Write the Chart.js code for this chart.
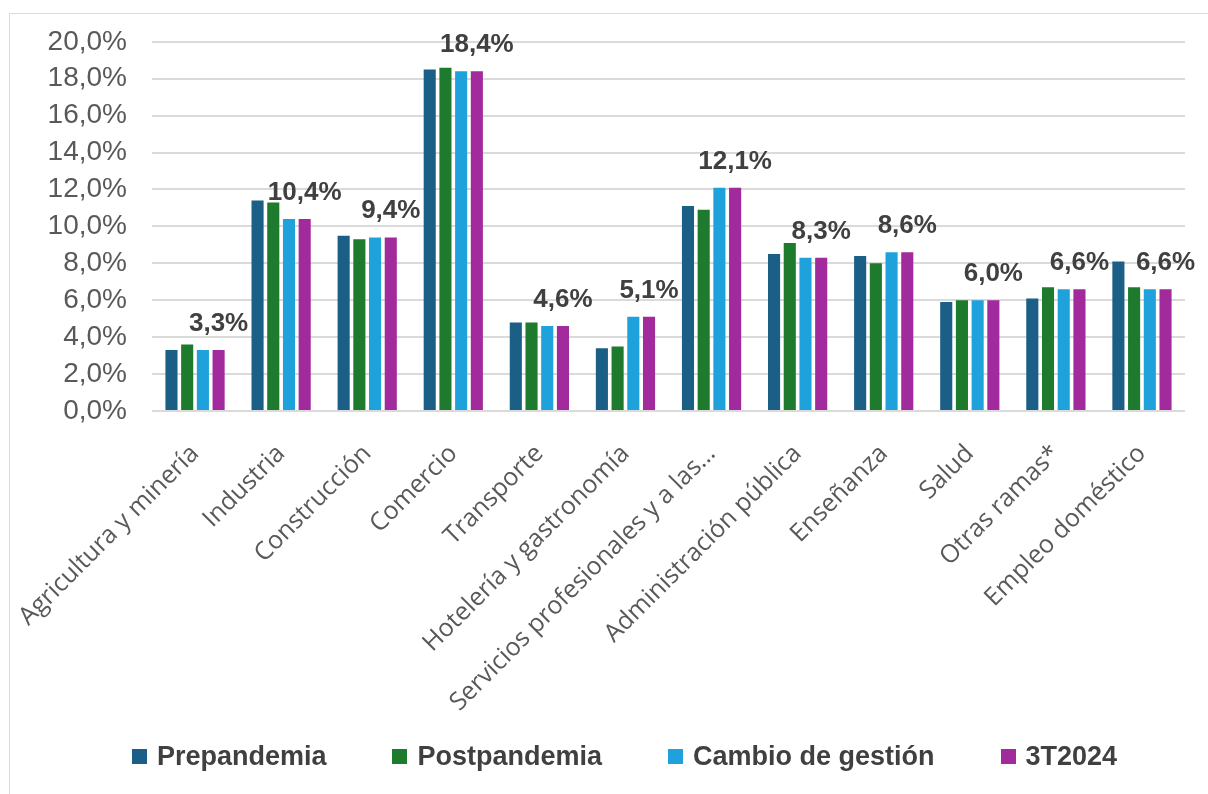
<!DOCTYPE html>
<html>
<head>
<meta charset="utf-8">
<script src="https://cdn.jsdelivr.net/npm/chart.js@4.4.1/dist/chart.umd.min.js"></script>
<style>
    html, body { margin: 0; padding: 0; background: #fff; overflow: hidden; }
    #marco { position: absolute; left: 9px; top: 13px; width: 1230px; height: 820px; border: 1px solid #dcdcdc; }
    #contenedor { position: absolute; left: 0; top: 0; width: 1208px; height: 794px; }
    #leyenda {
        position: absolute; left: 0; top: 742px; width: 1249px; height: 28px;
        display: flex; justify-content: center; align-items: center; gap: 66px;
        font: bold 27px "Liberation Sans", Arial, sans-serif; color: #404040;
    }
    #leyenda .item { display: flex; align-items: center; line-height: 28px; white-space: nowrap; }
    #leyenda .cuadro { width: 15px; height: 15px; margin-right: 10px; }
</style>
</head>
<body>
<div id="marco"></div>
<div id="contenedor"><canvas id="grafico"></canvas></div>
<div id="leyenda"></div>
<script>
    const ramas = ['Agricultura y minería', 'Industria', 'Construcción', 'Comercio', 'Transporte',
        'Hotelería y gastronomía', 'Servicios profesionales y a las…', 'Administración pública',
        'Enseñanza', 'Salud', 'Otras ramas*', 'Empleo doméstico'];
    const prepandemia   = [3.3, 11.4, 9.5, 18.5, 4.8, 3.4, 11.1, 8.5, 8.4, 5.9, 6.1, 8.1];
    const postpandemia  = [3.6, 11.3, 9.3, 18.6, 4.8, 3.5, 10.9, 9.1, 8.0, 6.0, 6.7, 6.7];
    const cambioGestion = [3.3, 10.4, 9.4, 18.4, 4.6, 5.1, 12.1, 8.3, 8.6, 6.0, 6.6, 6.6];
    const tercerTrim    = [3.3, 10.4, 9.4, 18.4, 4.6, 5.1, 12.1, 8.3, 8.6, 6.0, 6.6, 6.6];
    const marcasY = [0, 2, 4, 6, 8, 10, 12, 14, 16, 18, 20];

    const formato = v => v.toFixed(1).replace('.', ',') + '%';

    // etiquetas sobre las barras de 3T2024
    const etiquetas = {
        id: 'etiquetas',
        afterDatasetsDraw(chart) {
            const ctx = chart.ctx;
            const meta = chart.getDatasetMeta(3);
            ctx.save();
            ctx.font = 'bold 26px "Liberation Sans", Arial, sans-serif';
            ctx.fillStyle = '#404040';
            ctx.textAlign = 'center';
            ctx.textBaseline = 'alphabetic';
            meta.data.forEach((barra, i) => {
                ctx.fillText(formato(tercerTrim[i]), barra.x, barra.y - 19);
            });
            ctx.restore();
        }
    };

    const serie = (nombre, datos, color) => ({
        label: nombre,
        data: datos,
        backgroundColor: color,
        borderWidth: 0,
        categoryPercentage: 0.73,
        barPercentage: 0.77
    });

    const grafico = new Chart(document.getElementById('grafico').getContext('2d'), {
        type: 'bar',
        data: {
            labels: ramas,
            datasets: [
                serie('Prepandemia', prepandemia, '#1c5f86'),
                serie('Postpandemia', postpandemia, '#1e7a2c'),
                serie('Cambio de gestión', cambioGestion, '#1fa2dc'),
                serie('3T2024', tercerTrim, '#a12a9c')
            ]
        },
        options: {
            responsive: true,
            maintainAspectRatio: false,
            animation: false,
            layout: { padding: { top: 33, right: 23, bottom: 0, left: 0 } },
            plugins: {
                tooltip: { enabled: false },
                legend: { display: false }
            },
            scales: {
                x: {
                    grid: { display: false },
                    border: { display: false },
                    ticks: {
                        autoSkip: false,
                        minRotation: 45,
                        maxRotation: 45,
                        padding: 20,
                        color: '#595959',
                        font: { family: '"Open Sans", sans-serif', size: 25 }
                    },
                    afterFit: escala => {
                        escala.height = 383;
                        // las etiquetas giradas no deben empujar el área del gráfico
                        escala.paddingLeft = 0;
                        escala.paddingRight = 0;
                    }
                },
                y: {
                    min: 0,
                    max: 20,
                    grid: { color: '#dadada', lineWidth: 2, drawTicks: false },
                    border: { display: false },
                    afterBuildTicks: escala => { escala.ticks = marcasY.map(v => ({ value: v })); },
                    ticks: {
                        padding: 25,
                        color: '#595959',
                        font: { family: '"Liberation Sans", Arial, sans-serif', size: 28 },
                        callback: v => formato(v)
                    },
                    afterFit: escala => { escala.width = 152; }
                }
            }
        },
        plugins: [etiquetas]
    });

    // leyenda en HTML con los colores de cada serie
    const leyenda = document.getElementById('leyenda');
    grafico.data.datasets.forEach(ds => {
        const item = document.createElement('span');
        item.className = 'item';
        const cuadro = document.createElement('span');
        cuadro.className = 'cuadro';
        cuadro.style.background = ds.backgroundColor;
        item.appendChild(cuadro);
        item.appendChild(document.createTextNode(ds.label));
        leyenda.appendChild(item);
    });
</script>
</body>
</html>
